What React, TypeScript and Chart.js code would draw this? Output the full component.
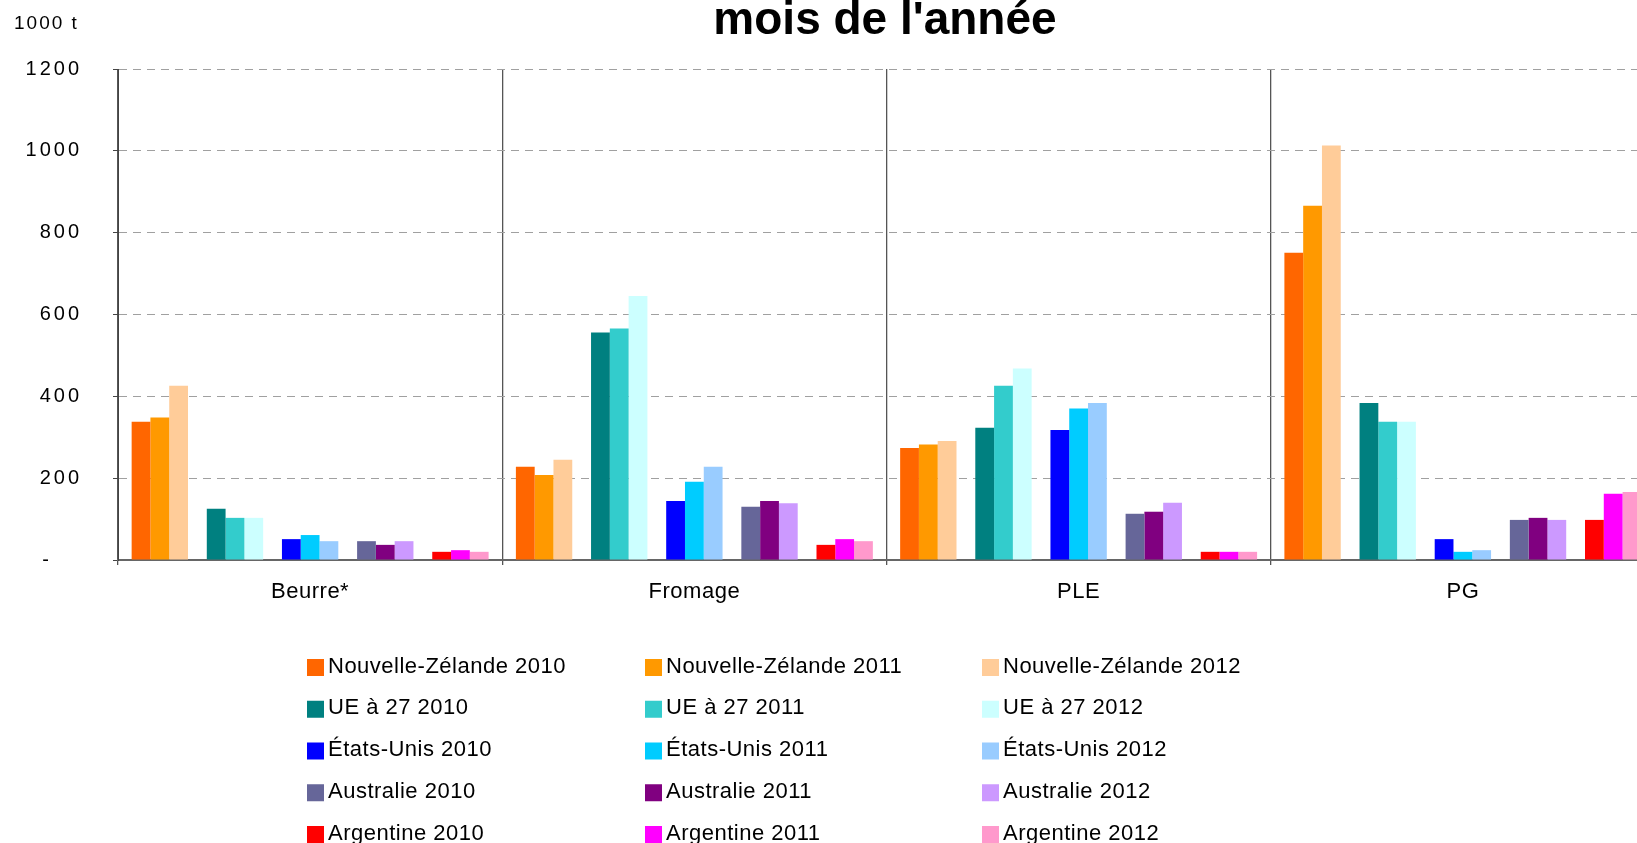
import { useEffect, useRef } from 'react';
import { Chart, registerables } from 'chart.js';

Chart.register(...registerables);

const chartTitle = "mois de l'année";
const unitLabel = '1000 t';
const categories = ['Beurre*', 'Fromage', 'PLE', 'PG'];

const seriesLabels = [
  'Nouvelle-Zélande 2010', 'Nouvelle-Zélande 2011', 'Nouvelle-Zélande 2012',
  'UE à 27 2010', 'UE à 27 2011', 'UE à 27 2012',
  'États-Unis 2010', 'États-Unis 2011', 'États-Unis 2012',
  'Australie 2010', 'Australie 2011', 'Australie 2012',
  'Argentine 2010', 'Argentine 2011', 'Argentine 2012',
];

const seriesColors = [
  '#FF6600', '#FF9900', '#FFCC99',
  '#008080', '#33CCCC', '#CCFFFF',
  '#0000FF', '#00CCFF', '#99CCFF',
  '#666699', '#800080', '#CC99FF',
  '#FF0000', '#FF00FF', '#FF99CC',
];

const nz2010 = [338, 228, 274, 751];
const nz2011 = [348, 208, 282, 866];
const nz2012 = [426, 245, 291, 1013];
const ue2010 = [125, 556, 323, 384];
const ue2011 = [103, 566, 426, 338];
const ue2012 = [103, 645, 468, 338];
const us2010 = [51, 144, 318, 51];
const us2011 = [61, 191, 370, 20];
const us2012 = [46, 228, 384, 24];
const au2010 = [46, 130, 113, 98];
const au2011 = [37, 144, 118, 103];
const au2012 = [46, 139, 140, 98];
const ar2010 = [20, 37, 20, 98];
const ar2011 = [24, 51, 20, 162];
const ar2012 = [20, 46, 20, 166];

const yMin = 0;
const yMax = 1200;
const yStep = 200;

const FONT = 'Arial, "Liberation Sans", sans-serif';
const W = 1700;
const H = 843;

export default function App() {
  const ref = useRef<HTMLCanvasElement>(null);

  useEffect(() => {
    const canvas = ref.current;
    if (!canvas) return;
    const seriesValues = [
      nz2010, nz2011, nz2012,
      ue2010, ue2011, ue2012,
      us2010, us2011, us2012,
      au2010, au2011, au2012,
      ar2010, ar2011, ar2012,
    ];
    const datasets: any[] = [];
    seriesValues.forEach((vals, i) => {
      if (i > 0 && i % 3 === 0) {
        datasets.push({
          label: '',
          spacer: true,
          data: categories.map(() => null),
          backgroundColor: 'rgba(0,0,0,0)',
        });
      }
      datasets.push({
        label: seriesLabels[i],
        data: vals,
        backgroundColor: seriesColors[i],
        borderWidth: 0,
      });
    });

    const overlay = {
      id: 'overlay',
      beforeDraw(chart: any) {
        chart.ctx.letterSpacing = '3px';
      },
      afterDraw(chart: any) {
        const ctx = chart.ctx;
        ctx.save();
        ctx.fillStyle = '#000';
        // title (upper line cut off by the frame)
        ctx.letterSpacing = '0px';
        ctx.font = `bold 46px ${FONT}`;
        ctx.textAlign = 'center';
        ctx.textBaseline = 'alphabetic';
        ctx.fillText(chartTitle, 885, 34);
        // unit
        ctx.letterSpacing = '2px';
        ctx.font = `19px ${FONT}`;
        ctx.textAlign = 'left';
        ctx.fillText(unitLabel, 14, 29);
        // category labels
        const xs = chart.scales.x;
        ctx.letterSpacing = '0.5px';
        ctx.font = `22px ${FONT}`;
        ctx.textAlign = 'center';
        categories.forEach((c, i) => {
          ctx.fillText(c, xs.getPixelForValue(i), 598);
        });
        // legend (3 columns x 5 rows)
        const cols = [307, 645, 982];
        const top0 = 659;
        const pitch = 41.75;
        const box = 17;
        ctx.textAlign = 'left';
        ctx.font = `22px ${FONT}`;
        ctx.letterSpacing = '0.5px';
        const real = chart.data.datasets.filter((d: any) => !d.spacer);
        real.forEach((d: any, k: number) => {
          const row = Math.floor(k / 3);
          const col = k % 3;
          const top = top0 + row * pitch;
          ctx.fillStyle = d.backgroundColor;
          ctx.fillRect(cols[col], top, box, box);
          ctx.fillStyle = '#000';
          ctx.fillText(d.label, cols[col] + 21, top + 13.5);
        });
        ctx.restore();
      },
    };

    const chart = new Chart(canvas, {
      type: 'bar',
      data: { labels: categories, datasets },
      options: {
        responsive: false,
        animation: false,
        events: [],
        layout: { padding: { left: 0, top: 69, right: W - 1655, bottom: 0 } },
        datasets: {
          bar: { barPercentage: 1, categoryPercentage: 0.929 },
        },
        plugins: {
          legend: { display: false },
          tooltip: { enabled: false },
          title: { display: false },
        },
        scales: {
          x: {
            z: 1,
            offset: true,
            grid: {
              offset: true,
              color: '#555',
              lineWidth: 1.3,
              drawTicks: true,
              tickLength: 5,
              tickColor: '#555',
            },
            border: { display: true, color: '#666', width: 2 },
            ticks: { display: false },
            afterFit(s: any) {
              s.height = H - 560;
            },
          },
          y: {
            min: yMin,
            max: yMax,
            ticks: {
              stepSize: yStep,
              color: '#000',
              font: { family: FONT, size: 20 },
              padding: 31,
              callback: (v: any) => (Number(v) === 0 ? '-\u2002  ' : String(v)),
            },
            grid: {
              color: '#a0a0a0',
              lineWidth: 1,
              drawTicks: true,
              tickLength: 5,
              tickColor: '#444',
              tickBorderDash: [],
            },
            border: { display: true, color: '#444', width: 1, dash: [8, 6] },
            afterFit(s: any) {
              s.width = 118;
            },
          },
        },
      },
      plugins: [overlay],
    });

    return () => chart.destroy();
  }, []);

  return (
    <div
      style={{
        position: 'fixed',
        left: 0,
        top: 0,
        width: '100vw',
        height: '100vh',
        overflow: 'hidden',
        background: '#fff',
      }}
    >
      <canvas
        ref={ref}
        width={W}
        height={H}
        style={{ position: 'absolute', left: 0, top: 0, width: W, height: H }}
      />
    </div>
  );
}
